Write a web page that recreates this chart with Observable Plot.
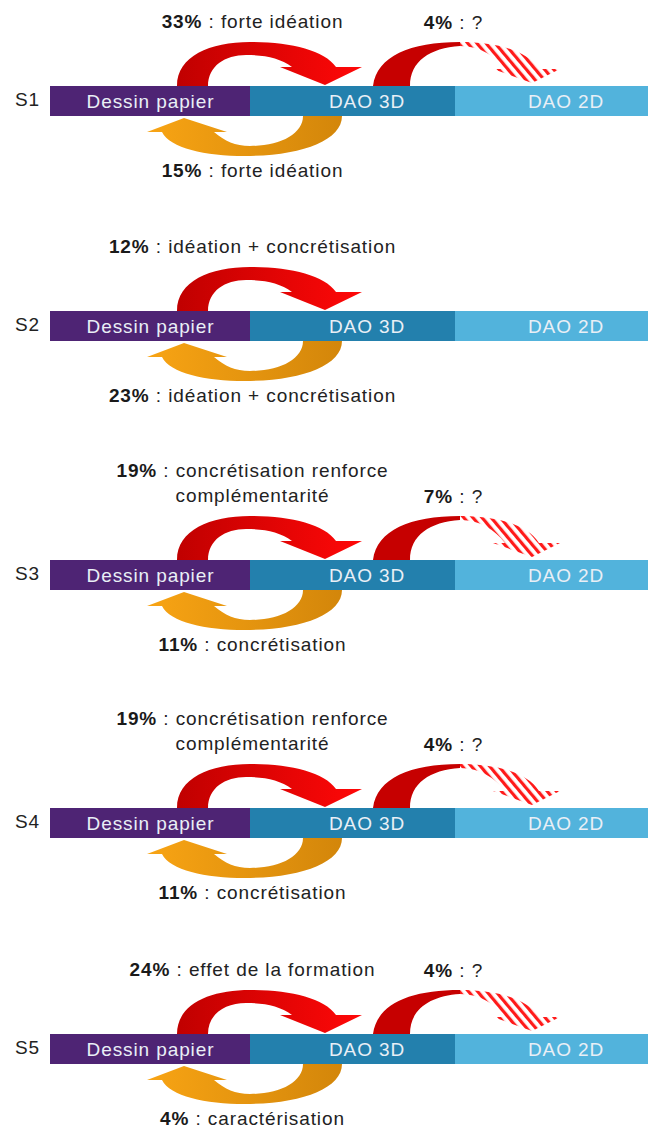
<!DOCTYPE html>
<html>
<head>
<meta charset="utf-8">
<script src="https://cdn.jsdelivr.net/npm/d3@7"></script>
<script src="https://cdn.jsdelivr.net/npm/@observablehq/plot@0.6"></script>
<style>
  body { margin: 0; background: #fff; }
  #chart svg text { letter-spacing: 0.9px; }
</style>
</head>
<body>
<div id="chart"></div>
<script>
// ---------- DATA ----------
const rows = ["S1", "S2", "S3", "S4", "S5"];
const segments = ["Dessin papier", "DAO 3D", "DAO 2D"];
// paper -> 3D (red arrow above)
const forwardPct = [33, 12, 19, 19, 24];
const forwardText = [
  ["forte idéation"],
  ["idéation + concrétisation"],
  ["concrétisation renforce", "complémentarité"],
  ["concrétisation renforce", "complémentarité"],
  ["effet de la formation"]
];
// 3D -> paper (orange arrow below)
const backPct = [15, 23, 11, 11, 4];
const backText = ["forte idéation", "idéation + concrétisation", "concrétisation", "concrétisation", "caractérisation"];
// 3D -> 2D (uncertain, hatched arrow)
const to2dPct = [4, null, 7, 4, 4];
const to2dText = ["?", null, "?", "?", "?"];

// ---------- LAYOUT / STYLE ----------
const W = 648, H = 1129;
const rowCenter = [101, 326, 575, 823, 1049];
const segEdges = [50, 250, 455, 648];
const segLabelShift = [0, 14, 14];
const segColors = ["#4e2474", "#2380ad", "#52b3dc"];
const barHalf = 15;
const FONT = "'Liberation Sans', Arial, sans-serif";
const FS = 19, LS = 0.9;

const ctx = document.createElement("canvas").getContext("2d");
function tw(s, bold) {
  ctx.font = `${bold ? "bold " : ""}${FS}px ${FONT}`;
  return ctx.measureText(s).width + LS * s.length;
}

// bars
const bars = [];
rows.forEach((r, i) => segments.forEach((s, j) => bars.push({
  row: r, seg: s,
  x1: segEdges[j], x2: segEdges[j + 1],
  y1: rowCenter[i] - barHalf, y2: rowCenter[i] + barHalf
})));
const barLabels = [];
rows.forEach((r, i) => segments.forEach((s, j) => barLabels.push({
  text: s, x: (segEdges[j] + segEdges[j + 1]) / 2 + segLabelShift[j], y: rowCenter[i]
})));
const rowLabels = rows.map((r, i) => ({text: r, x: 27, y: rowCenter[i] - 2}));

// labels with bold percentage
const boldPieces = [], plainPieces = [];
function addLabel(cx, y, pct, rest) {
  const a = pct + "%", b = "\u00a0:\u00a0" + rest;
  const wa = tw(a, true), wb = tw(b, false);
  const x0 = cx - (wa + wb) / 2;
  boldPieces.push({x: x0, y, text: a});
  plainPieces.push({x: x0 + wa, y, text: b});
}
function addPlain(cx, y, s) {
  plainPieces.push({x: cx - tw(s, false) / 2, y, text: s});
}
rows.forEach((r, i) => {
  const c = rowCenter[i];
  const cx = segEdges[1] + 2;
  const lines = forwardText[i];
  if (lines.length === 1) addLabel(cx, c - 80, forwardPct[i], lines[0]);
  else { addLabel(cx, c - 105, forwardPct[i], lines[0]); addPlain(cx, c - 80, lines[1]); }
  addLabel(cx, c + 69, backPct[i], backText[i]);
  if (to2dPct[i] != null) addLabel(segEdges[2] - 2, c - 79, to2dPct[i], to2dText[i]);
});

// arrow shapes (pixel offsets from an anchor on the bar edge)
const topArrow = [["M",-73,3],["L",-73,0],["C",-73,-30,-40,-44,0,-44],["C",40,-44,74,-36,86,-19],
  ["L",112,-19],["L",75,-1],["L",30,-19],["L",42,-19],["C",30,-28,15,-31,-4,-31],
  ["C",-25,-31,-42,-20,-42,0],["L",-42,3],["Z"]];
const bottomArrow = [["M",92,-3],["L",92,0],["C",92,25,50,40,-5,40],["C",-45,40,-80,32,-88,16],
  ["L",-103,16],["L",-66,2],["L",-23,16],["L",-36,16],["C",-25,25,-15,30,0,30],
  ["C",30,30,53,18,53,0],["L",53,-3],["Z"]];
const rightSolid = [["M",-82,3],["L",-82,0],["C",-78,-30,-45,-44,5,-44],["L",5,-40],
  ["C",-25,-38,-45,-25,-45,0],["L",-45,3],["Z"]];
const rightHatch = [["M",5,-44],["C",40,-44,72,-36,84,-17],["L",105,-17],["L",77,-3],
  ["L",38,-17],["L",50,-17],["C",40,-30,25,-40,5,-40],["Z"]];

function arrowMark(index, scales) {
  const g = d3.create("svg:g");
  const defs = g.append("defs");
  const gr = defs.append("linearGradient").attr("id", "gRed");
  gr.append("stop").attr("offset", 0).attr("stop-color", "#c00000");
  gr.append("stop").attr("offset", 1).attr("stop-color", "#ff0808");
  const go = defs.append("linearGradient").attr("id", "gOrange");
  go.append("stop").attr("offset", 0).attr("stop-color", "#f8a414");
  go.append("stop").attr("offset", 1).attr("stop-color", "#d3860a");
  const pat = defs.append("pattern").attr("id", "hatch").attr("patternUnits", "userSpaceOnUse")
    .attr("width", 7).attr("height", 7).attr("patternTransform", "rotate(-40)");
  pat.append("rect").attr("width", 3.2).attr("height", 7).attr("fill", "#ff1a1a");
  const toPath = (shape, X, Y) => shape.map(cmd => {
    if (cmd[0] === "Z") return "Z";
    const pts = [];
    for (let k = 1; k < cmd.length; k += 2)
      pts.push(scales.x(X + cmd[k]).toFixed(1) + "," + scales.y(Y + cmd[k + 1]).toFixed(1));
    return cmd[0] + pts.join(" ");
  }).join("");
  rows.forEach((r, i) => {
    const c = rowCenter[i];
    g.append("path").attr("d", toPath(topArrow, segEdges[1], c - barHalf)).attr("fill", "url(#gRed)");
    g.append("path").attr("d", toPath(bottomArrow, segEdges[1], c + barHalf)).attr("fill", "url(#gOrange)");
    if (to2dPct[i] != null) {
      g.append("path").attr("d", toPath(rightSolid, segEdges[2], c - barHalf)).attr("fill", "#c60000");
      g.append("path").attr("d", toPath(rightHatch, segEdges[2], c - barHalf)).attr("fill", "url(#hatch)");
    }
  });
  return g.node();
}

const chart = Plot.plot({
  width: W, height: H, margin: 0,
  x: {domain: [0, W], range: [0, W], axis: null},
  y: {domain: [0, H], range: [0, H], axis: null},
  color: {domain: segments, range: segColors},
  style: {fontFamily: FONT, background: "#fff", overflow: "visible"},
  marks: [
    arrowMark,
    Plot.rect(bars, {x1: "x1", x2: "x2", y1: "y1", y2: "y2", fill: "seg"}),
    Plot.text(barLabels, {x: "x", y: "y", text: "text", fill: "#e9eff6", fontSize: FS}),
    Plot.text(rowLabels, {x: "x", y: "y", text: "text", fill: "#222", fontSize: FS}),
    Plot.text(boldPieces, {x: "x", y: "y", text: "text", textAnchor: "start", fontWeight: "bold", fill: "#1a1a1a", fontSize: FS}),
    Plot.text(plainPieces, {x: "x", y: "y", text: "text", textAnchor: "start", fill: "#222", fontSize: FS})
  ]
});
document.getElementById("chart").append(chart);
</script>
</body>
</html>
